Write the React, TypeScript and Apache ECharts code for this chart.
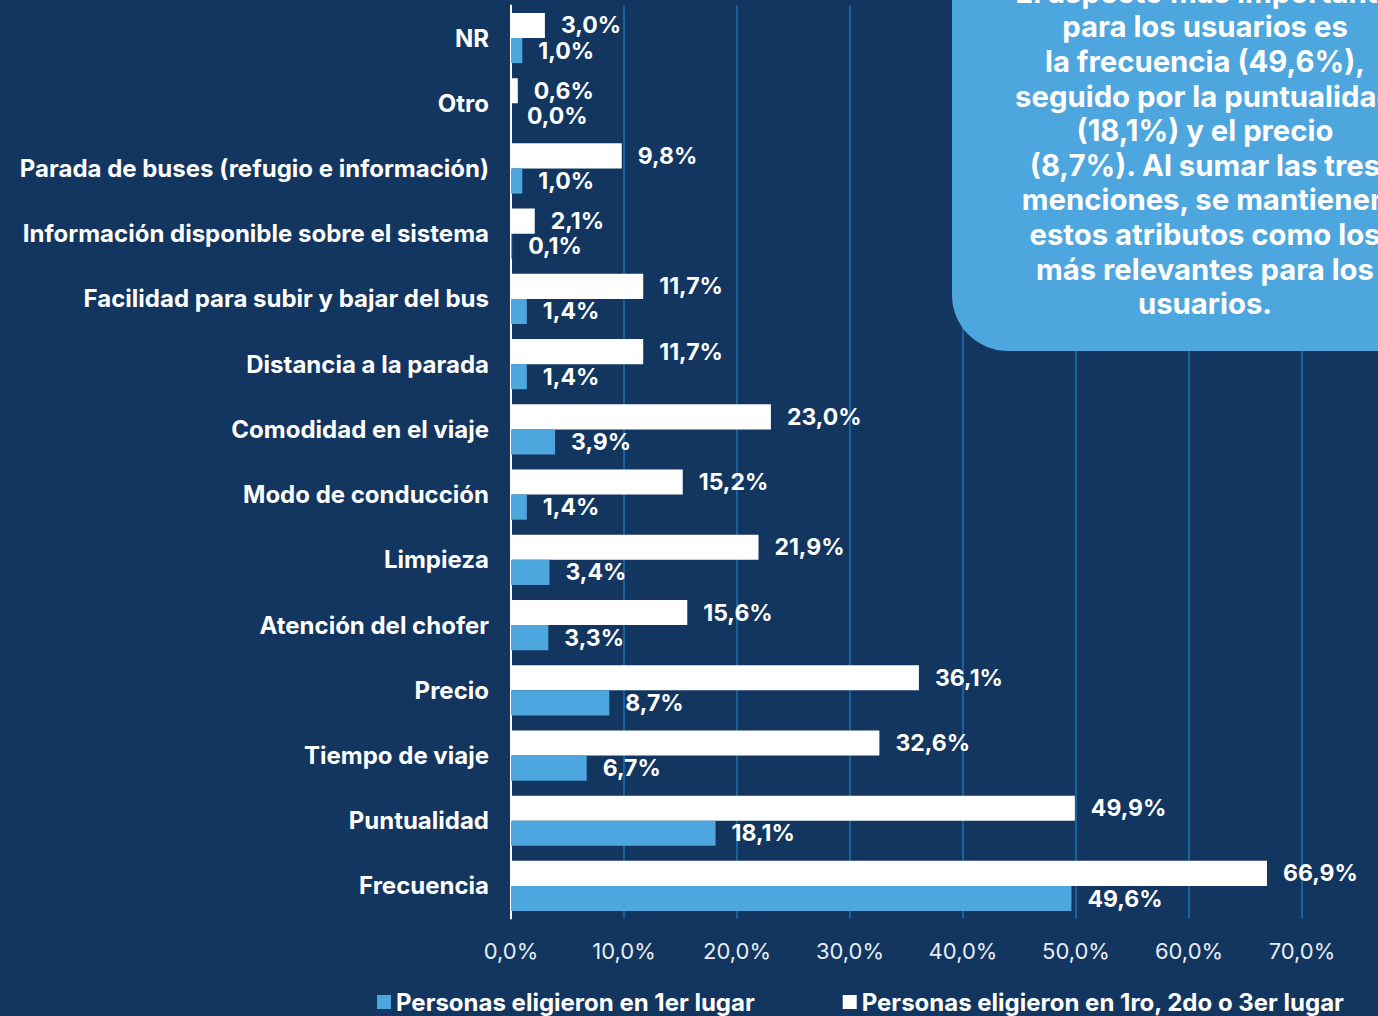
import React, { useEffect, useRef } from "react";
import * as echarts from "echarts";

const categories = [
  "Frecuencia",
  "Puntualidad",
  "Tiempo de viaje",
  "Precio",
  "Atención del chofer",
  "Limpieza",
  "Modo de conducción",
  "Comodidad en el viaje",
  "Distancia a la parada",
  "Facilidad para subir y bajar del bus",
  "Información disponible sobre el sistema",
  "Parada de buses (refugio e información)",
  "Otro",
  "NR",
];

const primerLugar = [49.6, 18.1, 6.7, 8.7, 3.3, 3.4, 1.4, 3.9, 1.4, 1.4, 0.1, 1.0, 0.0, 1.0];
const tresLugares = [66.9, 49.9, 32.6, 36.1, 15.6, 21.9, 15.2, 23.0, 11.7, 11.7, 2.1, 9.8, 0.6, 3.0];

const seriesNames = [
  "Personas eligieron en 1er lugar",
  "Personas eligieron en 1ro, 2do o 3er lugar",
];

const xTicks = [0, 10, 20, 30, 40, 50, 60, 70];

const noteText = [
  "El aspecto más importante",
  "para los usuarios es",
  "la frecuencia (49,6%),",
  "seguido por la puntualidad",
  "(18,1%) y el precio",
  "(8,7%). Al sumar las tres",
  "menciones, se mantienen",
  "estos atributos como los",
  "más relevantes para los",
  "usuarios.",
];

const BG = "#12365f";
const BLUE = "#4ea6de";
const FONT = "Inter, 'Noto Sans', sans-serif";

const fmt = (v: number) => v.toFixed(1).replace(".", ",") + "%";

export default function App() {
  const ref = useRef<HTMLDivElement>(null);
  useEffect(() => {
    if (!ref.current) return;
    const chart = echarts.init(ref.current, undefined, { renderer: "svg" });
    const labelStyle = {
      show: true,
      position: "right" as const,
      distance: 16,
      color: "#ffffff",
      fontFamily: FONT,
      fontWeight: 700,
      fontSize: 23,
      formatter: (p: any) => fmt(p.value),
    };
    chart.setOption({
      animation: false,
      backgroundColor: BG,
      textStyle: { fontFamily: FONT },
      grid: { left: 511, right: 76, top: 5.4, bottom: 97.4, containLabel: false },
      xAxis: {
        type: "value",
        min: 0,
        max: 70,
        interval: 10,
        axisLine: { show: false },
        axisTick: { show: false },
        splitLine: { show: true, lineStyle: { color: "#1d6fb3", width: 1.5 } },
        axisLabel: {
          color: "#e8eef5",
          fontSize: 22,
          fontFamily: FONT,
          margin: 21,
          formatter: (v: number) => (xTicks.includes(v) ? fmt(v) : ""),
        },
      },
      yAxis: {
        type: "category",
        data: categories,
        axisLine: { show: true, lineStyle: { color: "#ffffff", width: 2 } },
        axisTick: { show: false },
        axisLabel: {
          color: "#ffffff",
          fontSize: 24,
          fontWeight: 700,
          fontFamily: FONT,
          margin: 22,
        },
      },
      legend: {
        left: 372,
        top: 985,
        icon: "rect",
        itemWidth: 14,
        itemHeight: 14,
        itemGap: 88,
        textStyle: { color: "#ffffff", fontSize: 24, fontWeight: 700, fontFamily: FONT },
        data: seriesNames,
      },
      series: [
        {
          name: seriesNames[1],
          type: "bar",
          data: tresLugares,
          barGap: "0%",
          barCategoryGap: "23%",
          itemStyle: { color: "#ffffff" },
          label: labelStyle,
        },
        {
          name: seriesNames[0],
          type: "bar",
          data: primerLugar,
          barGap: "0%",
          barCategoryGap: "23%",
          itemStyle: { color: BLUE },
          label: labelStyle,
        },
      ],
      graphic: [
        {
          type: "rect",
          shape: { x: 952, y: -60, width: 480, height: 411, r: 56 },
          style: { fill: BLUE },
          z: 10,
        },
        {
          type: "text",
          x: 1205,
          y: -25,
          z: 11,
          style: {
            text: noteText.join("\n"),
            fill: "#ffffff",
            fontSize: 29.3,
            fontWeight: 700,
            fontFamily: FONT,
            lineHeight: 34.6,
            textAlign: "center",
            textVerticalAlign: "top",
          },
        },
      ],
    });
    return () => chart.dispose();
  }, []);
  return <div ref={ref} style={{ width: 1378, height: 1016, position: "absolute", left: 0, top: 0 }} />;
}
